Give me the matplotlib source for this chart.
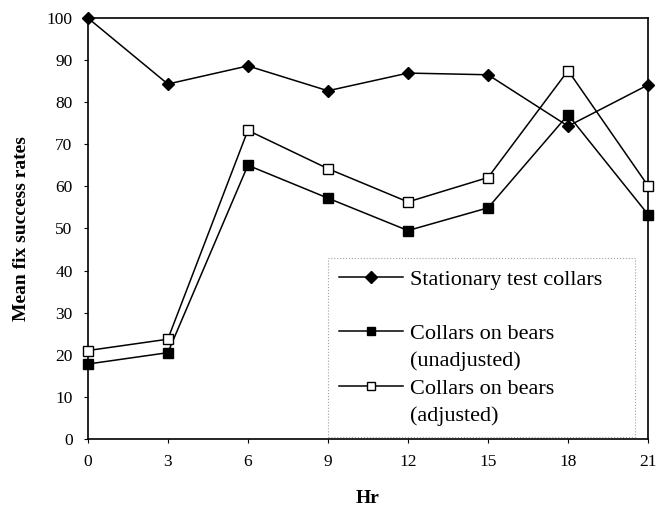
import matplotlib
matplotlib.use('Agg')
import matplotlib.pyplot as plt
from matplotlib.lines import Line2D

plt.rcParams['font.family'] = 'Liberation Serif'

hours = [0, 3, 6, 9, 12, 15, 18, 21]
stationary = [100, 84.3, 88.6, 82.7, 86.9, 86.5, 74.3, 84.1]
bears_unadj = [17.8, 20.5, 65.0, 57.2, 49.5, 54.9, 77.0, 53.3]
bears_adj = [21.0, 23.7, 73.3, 64.2, 56.3, 62.1, 87.5, 60.1]
yticks = [0, 10, 20, 30, 40, 50, 60, 70, 80, 90, 100]

fig = plt.figure(figsize=(6.6, 5.12), dpi=100)
ax = fig.add_axes([0.133, 0.1426, 0.849, 0.8224])

ax.plot(hours, stationary, color='black', lw=1.1, marker='D', ms=6.5,
        mfc='black', mec='black', clip_on=False, zorder=3)
ax.plot(hours, bears_unadj, color='black', lw=1.1, marker='s', ms=7,
        mfc='black', mec='black', clip_on=False, zorder=3)
ax.plot(hours, bears_adj, color='black', lw=1.1, marker='s', ms=6.5,
        mfc='white', mec='black', mew=1.0, clip_on=False, zorder=3)

ax.set_xlim(0, 21)
ax.set_ylim(0, 100)
ax.set_xticks(hours)
ax.set_yticks(yticks)
ax.tick_params(direction='out', length=3, width=0.8, labelsize=12.5, pad=8)
for s in ax.spines.values():
    s.set_linewidth(1.2)
    s.set_color('black')

ax.set_xlabel('Hr', fontsize=14, fontweight='bold', labelpad=14)
ax.set_ylabel('Mean fix success rates', fontsize=14, fontweight='bold', labelpad=12)

blank = Line2D([], [], color='none')
handles = [
    Line2D([], [], color='black', lw=1.1, marker='D', ms=6, mfc='black'),
    blank,
    Line2D([], [], color='black', lw=1.1, marker='s', ms=6, mfc='black'),
    blank,
    Line2D([], [], color='black', lw=1.1, marker='s', ms=5.5, mfc='white'),
    blank,
]
labels = ['Stationary test collars', '', 'Collars on bears', '(unadjusted)',
          'Collars on bears', '(adjusted)']
leg = ax.legend(handles, labels, loc='lower left', bbox_to_anchor=(0.428, 0.005, 0.549, 0.444),
                mode='expand', fontsize=16, frameon=True, fancybox=False,
                handlelength=2.9, handletextpad=0.3, labelspacing=0.3,
                borderpad=0.5, borderaxespad=0)
fr = leg.get_frame()
fr.set_edgecolor('#888888')
fr.set_linestyle(':')
fr.set_linewidth(0.8)

fig.savefig('out.png', dpi=100)
